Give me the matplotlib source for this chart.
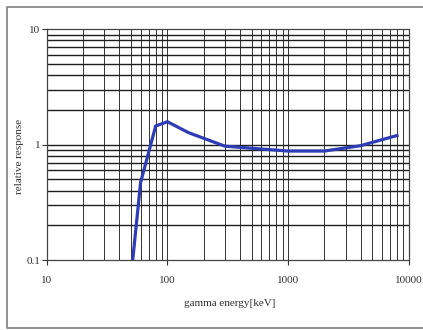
import matplotlib
matplotlib.use("Agg")
import matplotlib.pyplot as plt
from matplotlib.lines import Line2D
from matplotlib.ticker import FixedLocator, NullLocator, FixedFormatter

energy_kev = [50, 60, 80, 100, 150, 300, 1000, 2000, 4000, 8000]
response = [0.072, 0.47, 1.45, 1.58, 1.27, 0.97, 0.88, 0.88, 0.98, 1.2]

x_ticks = [10, 100, 1000, 10000]
x_tick_labels = ["10", "100", "1000", "10000"]
y_ticks = [0.1, 1, 10]
y_tick_labels = ["0.1", "1", "10"]

plt.rcParams['font.family'] = ['Liberation Serif', 'DejaVu Serif']

W, H = 423, 330
fig = plt.figure(figsize=(W / 100, H / 100), dpi=100)
fig.patch.set_facecolor('white')

left, right, top, bottom = 46.7, 408.7, 29.3, 260.0
ax = fig.add_axes([left / W, 1 - bottom / H, (right - left) / W, (bottom - top) / H])
ax.set_xscale('log')
ax.set_yscale('log')
ax.set_xlim(10, 10000)
ax.set_ylim(0.1, 10)

# grid lines at minor positions and majors
for dec in [10, 100, 1000]:
    for m in range(2, 10):
        ax.axvline(dec * m, color='#333333', lw=0.7, zorder=1)
ax.axvline(100, color='#333333', lw=0.7, zorder=1)
ax.axvline(1000, color='#333333', lw=0.7, zorder=1)
for dec in [0.1, 1]:
    for m in range(2, 10):
        ax.axhline(dec * m, color='#1e1e1e', lw=1.0, zorder=1)
ax.axhline(1, color='#1e1e1e', lw=1.0, zorder=1)

ax.plot(energy_kev, response, color='#2e3db5', lw=2.3, zorder=3, solid_joinstyle='miter')

ax.xaxis.set_major_locator(FixedLocator(x_ticks))
ax.xaxis.set_major_formatter(FixedFormatter(x_tick_labels))
ax.xaxis.set_minor_locator(NullLocator())
ax.yaxis.set_major_locator(FixedLocator(y_ticks))
ax.yaxis.set_major_formatter(FixedFormatter(y_tick_labels))
ax.yaxis.set_minor_locator(NullLocator())
ax.tick_params(axis='both', which='major', direction='out', length=3.5, width=0.8,
               color='#333333', labelsize=8, labelcolor='#333333', pad=8)
ax.tick_params(axis='y', pad=1)
for s in ax.spines.values():
    s.set_color('#444444')
    s.set_linewidth(0.9)

fig.text(230 / W, 1 - 303 / H, 'gamma energy[keV]', ha='center', va='center',
         fontsize=8, color='#333333')
fig.text(20 / W, 1 - 156 / H, 'relative response', ha='center', va='center',
         rotation=90, fontsize=8, color='#333333')

# outer frame: top, left, bottom (right edge falls outside the picture)
fx0, fx1 = 6.5 / W, 1.0
fy0, fy1 = 1 - 328 / H, 1 - 6.5 / H
fig.add_artist(Line2D([fx1, fx0, fx0, fx1], [fy1, fy1, fy0, fy0],
                      transform=fig.transFigure, color='#888888', lw=1.3))

fig.savefig('out.png', dpi=100, facecolor='white')
